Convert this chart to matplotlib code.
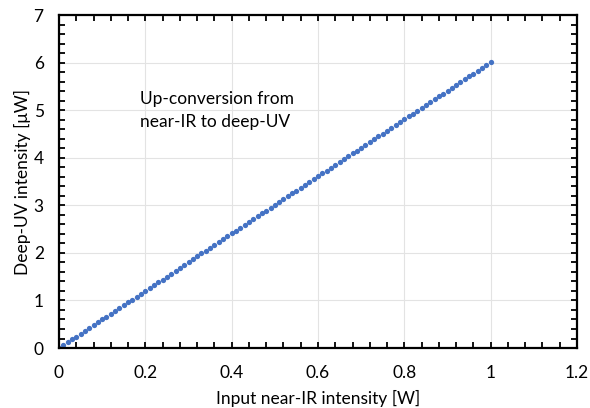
import numpy as np
import matplotlib.pyplot as plt
from matplotlib.ticker import MultipleLocator

# potencia de entrada (W) y salida deep-UV (uW)
p_in = [0.00, 0.01, 0.02, 0.03, 0.04, 0.05, 0.06, 0.07, 0.08, 0.09,
        0.10, 0.11, 0.12, 0.13, 0.14, 0.15, 0.16, 0.17, 0.18, 0.19,
        0.20, 0.21, 0.22, 0.23, 0.24, 0.25, 0.26, 0.27, 0.28, 0.29,
        0.30, 0.31, 0.32, 0.33, 0.34, 0.35, 0.36, 0.37, 0.38, 0.39,
        0.40, 0.41, 0.42, 0.43, 0.44, 0.45, 0.46, 0.47, 0.48, 0.49,
        0.50, 0.51, 0.52, 0.53, 0.54, 0.55, 0.56, 0.57, 0.58, 0.59,
        0.60, 0.61, 0.62, 0.63, 0.64, 0.65, 0.66, 0.67, 0.68, 0.69,
        0.70, 0.71, 0.72, 0.73, 0.74, 0.75, 0.76, 0.77, 0.78, 0.79,
        0.80, 0.81, 0.82, 0.83, 0.84, 0.85, 0.86, 0.87, 0.88, 0.89,
        0.90, 0.91, 0.92, 0.93, 0.94, 0.95, 0.96, 0.97, 0.98, 0.99,
        1.00]
uv_out = [0.00, 0.06, 0.12, 0.18, 0.24, 0.30, 0.36, 0.42, 0.48, 0.54,
          0.60, 0.66, 0.72, 0.78, 0.84, 0.90, 0.96, 1.02, 1.08, 1.14,
          1.20, 1.26, 1.32, 1.38, 1.44, 1.50, 1.56, 1.62, 1.68, 1.75,
          1.81, 1.87, 1.93, 1.99, 2.05, 2.11, 2.17, 2.23, 2.29, 2.35,
          2.41, 2.47, 2.53, 2.59, 2.65, 2.71, 2.77, 2.83, 2.89, 2.95,
          3.01, 3.07, 3.13, 3.19, 3.25, 3.31, 3.37, 3.43, 3.49, 3.55,
          3.61, 3.67, 3.73, 3.79, 3.85, 3.91, 3.97, 4.03, 4.09, 4.15,
          4.21, 4.27, 4.33, 4.39, 4.45, 4.51, 4.57, 4.63, 4.69, 4.75,
          4.81, 4.87, 4.93, 4.99, 5.05, 5.11, 5.17, 5.23, 5.29, 5.35,
          5.41, 5.47, 5.53, 5.59, 5.65, 5.71, 5.77, 5.83, 5.89, 5.95,
          6.01]

x_ticks = [0, 0.2, 0.4, 0.6, 0.8, 1.0, 1.2]
x_labels = ['0', '0.2', '0.4', '0.6', '0.8', '1', '1.2']
y_ticks = [0, 1, 2, 3, 4, 5, 6, 7]

plt.rcParams['font.family'] = ['Lato', 'DejaVu Sans']

fig = plt.figure(figsize=(5.9, 4.08), dpi=100)
ax = fig.add_axes([0.1, 0.147, 0.878, 0.816])

ax.plot(p_in, uv_out, 'o', color='#4472C4', markersize=3.8, markeredgewidth=0)

ax.set_xlim(0, 1.2)
ax.set_ylim(0, 7)
ax.set_xticks(x_ticks)
ax.set_xticklabels(x_labels)
ax.set_yticks(y_ticks)
ax.set_yticklabels([str(v) for v in y_ticks])
ax.xaxis.set_minor_locator(MultipleLocator(0.04))
ax.yaxis.set_minor_locator(MultipleLocator(0.2))

ax.grid(True, which='major', color='#e3e3e3', linewidth=0.8)
ax.set_axisbelow(True)
for s in ax.spines.values():
    s.set_linewidth(1.6)
    s.set_color('black')
ax.tick_params(which='both', direction='in', top=True, right=True,
               labelsize=12.5, width=1.3, length=4)
ax.tick_params(axis='x', which='both', pad=12)
ax.tick_params(axis='y', which='both', pad=11)

ax.set_xlabel('Input near-IR intensity [W]', fontsize=12.5, labelpad=7)
ax.set_ylabel('Deep-UV intensity [μW]', fontsize=12.5, labelpad=2)
ax.text(0.187, 5.4, 'Up-conversion from\nnear-IR to deep-UV', fontsize=12.5,
        va='top', ha='left', linespacing=1.55)

fig.savefig('out.png', dpi=100)
